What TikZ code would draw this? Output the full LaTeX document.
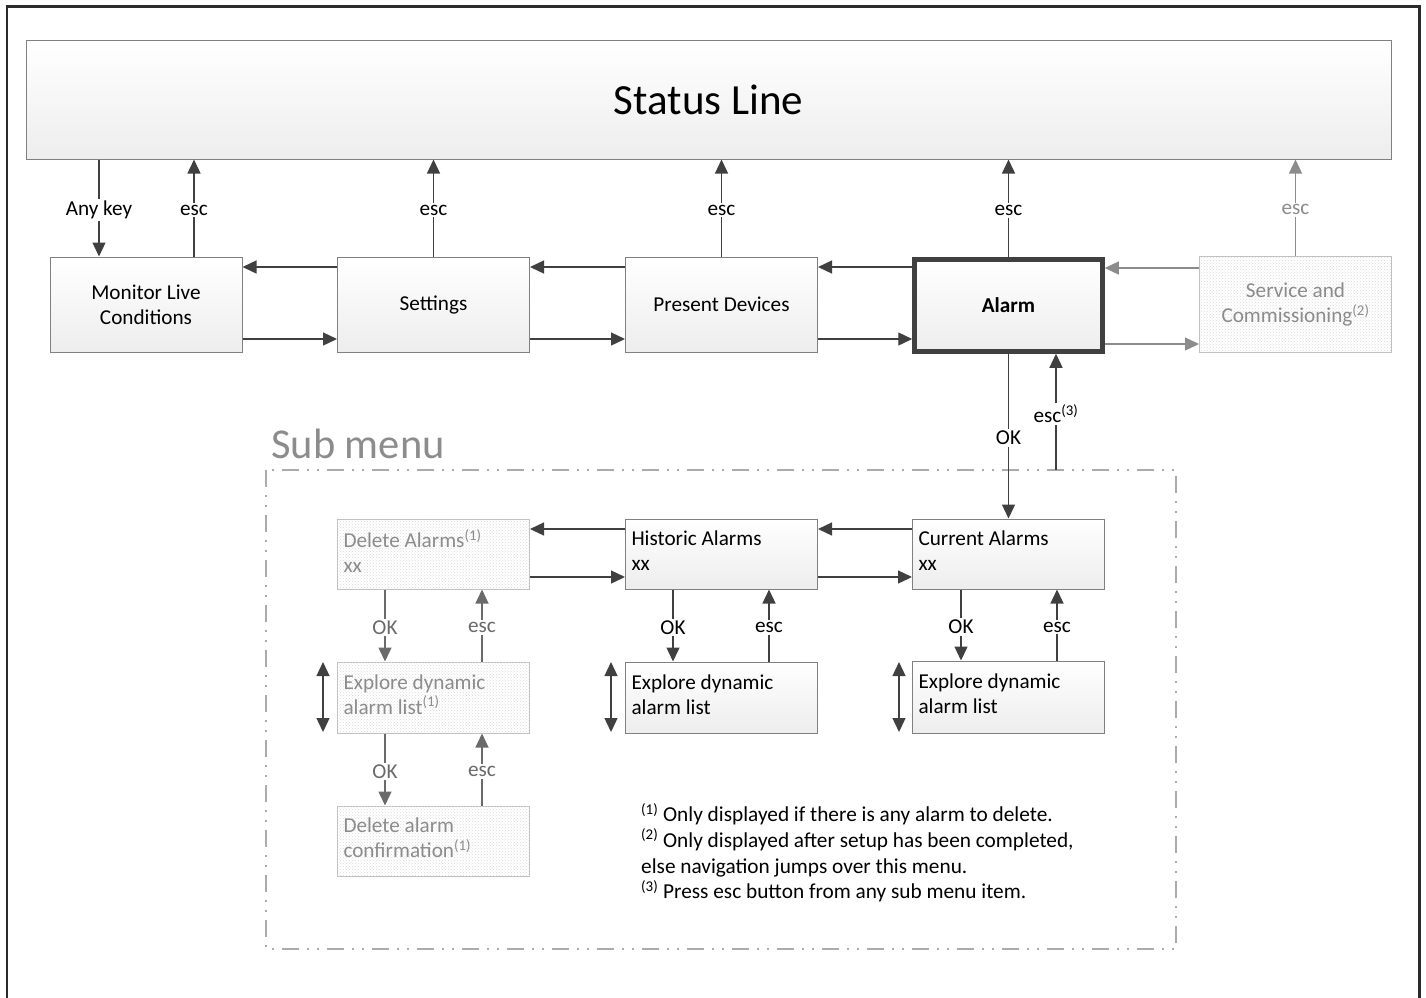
\documentclass[tikz,border=0pt]{standalone}
\usepackage{fontspec}
\setmainfont{Carlito}
\usetikzlibrary{arrows.meta,patterns,calc}
\definecolor{ln}{HTML}{404040}
\definecolor{bd}{HTML}{808080}
\definecolor{gtx}{HTML}{8C8C8C}
\definecolor{gbd}{HTML}{BFBFBF}
\definecolor{dg}{HTML}{6A6A6A}
\definecolor{frm}{HTML}{2B2B2B}
\definecolor{dashc}{HTML}{ABABAB}
\newcommand{\fs}{\fontsize{21.2}{25}\selectfont}
\newcommand{\dn}{\rule[-6pt]{0pt}{6pt}}
\begin{document}
\begin{tikzpicture}[x=1pt,y=-1pt,
  box/.style={draw=bd, line width=1pt, top color=white, bottom color=black!7,
    minimum width=192pt, inner sep=0pt, font=\fs, text=black},
  mainbox/.style={box, minimum height=95pt, align=center},
  subbox/.style={box, minimum height=70pt, text width=180pt, align=flush left},
  greybox/.style={draw=gbd, line width=1pt, fill=white,
    postaction={pattern=crosshatch dots, pattern color=black!14},
    minimum width=192pt, inner sep=0pt, font=\fs, text=gtx},
  arr/.style={draw=ln, line width=1.3pt, -{Triangle[length=14pt,width=13pt]}},
  garr/.style={arr, draw=gtx, -{Triangle[length=14pt,width=13pt,fill=gtx]}},
  darr/.style={arr, draw=dg, -{Triangle[length=14pt,width=13pt,fill=dg]}},
  dbl/.style={draw=ln, line width=1.3pt, {Triangle[length=14pt,width=13pt]}-{Triangle[length=14pt,width=13pt]}},
  lab/.style={fill=white, font=\fs, inner sep=2pt, text=black, yshift=-2pt},
  glab/.style={lab, text=gtx},
  dlab/.style={lab, text=dg}
]
\useasboundingbox (0,0) rectangle (1426,997);
% outer frame
\draw[frm, line width=2.5pt] (7,1005) -- (7,6.5) -- (1419.5,6.5) -- (1419.5,1005);

% status line
\node[draw=bd, line width=1pt, top color=white, bottom color=black!7,
  minimum width=1365pt, minimum height=119pt, inner sep=0pt,
  font=\fontsize{43}{48}\selectfont] (status) at (708.5,99.5) {Status Line};

% main row
\node[mainbox] (monitor) at (146,304.5) {Monitor Live\\Conditions};
\node[mainbox] (settings) at (433.5,304.5) {Settings};
\node[mainbox] (present) at (721.5,304.5) {Present Devices};
\node[mainbox, draw=ln, line width=4.5pt, minimum width=188pt, minimum height=92pt,
  font=\fs\bfseries] (alarm) at (1008.5,305.5) {Alarm};
\node[greybox, minimum height=96pt, align=center] (service) at (1295.5,304.5)
  {Service and\\Commissioning\textsuperscript{(2)}};

% up/down to status line
\draw[arr] (status.south -| 99,0) -- node[lab]{Any key} (monitor.north -| 99,0);
\draw[arr] (monitor.north -| 194,0) -- node[lab]{esc} (status.south -| 194,0);
\draw[arr] (settings.north) -- node[lab]{esc} (status.south -| settings.north);
\draw[arr] (present.north) -- node[lab]{esc} (status.south -| present.north);
\draw[arr] (alarm.north) -- node[lab]{esc} (status.south -| alarm.north);
\draw[garr] (service.north) -- node[glab]{esc} (status.south -| service.north);

% horizontal main arrows
\draw[arr] (settings.west |- 0,267) -- (monitor.east |- 0,267);
\draw[arr] (monitor.east |- 0,339) -- (settings.west |- 0,339);
\draw[arr] (present.west |- 0,267) -- (settings.east |- 0,267);
\draw[arr] (settings.east |- 0,339) -- (present.west |- 0,339);
\draw[arr] (alarm.west |- 0,267) -- (present.east |- 0,267);
\draw[arr] (present.east |- 0,339) -- (alarm.west |- 0,339);
\draw[garr] (service.west |- 0,268) -- (alarm.east |- 0,268);
\draw[garr] (alarm.east |- 0,344) -- (service.west |- 0,344);

% sub menu frame
\node[anchor=base west, font=\fontsize{42.5}{48}\selectfont, text=gtx, inner sep=0pt] (subtitle) at (271,458) {Sub menu};
\draw[dashc, line width=2.2pt, dash pattern=on 17pt off 8pt on 2pt off 8pt on 2pt off 8pt]
  (266,470) rectangle (1176,949);
\coordinate (subtop) at (1056,470);

% sub boxes
\node[greybox, minimum height=70pt, text width=180pt, align=flush left] (delete) at (433.5,554)
  {Delete Alarms\textsuperscript{(1)}\\xx\dn};
\node[subbox] (historic) at (721.5,554) {Historic Alarms\\xx\dn};
\node[subbox] (current) at (1008.5,554) {Current Alarms\\xx\dn};
\node[greybox, minimum height=71pt, text width=180pt, align=flush left] (expdel) at (433.5,697.5)
  {Explore dynamic\\alarm list\textsuperscript{(1)}\dn};
\node[subbox, minimum height=71pt] (exphist) at (721.5,697.5) {Explore dynamic\\alarm list\dn};
\node[subbox, minimum height=72pt] (expcur) at (1008.5,697) {Explore dynamic\\alarm list\dn};
\node[greybox, minimum height=70pt, text width=180pt, align=flush left] (confirm) at (433.5,841)
  {Delete alarm\\confirmation\textsuperscript{(1)}\dn};

% alarm <-> current
\draw[arr] (alarm.south -| current.north) -- node[lab]{OK} (current.north);
\draw[arr] (subtop) -- node[lab]{esc\textsuperscript{(3)}} (alarm.south -| subtop);

% sub horizontal arrows
\draw[arr] (historic.west |- 0,529) -- (delete.east |- 0,529);
\draw[arr] (delete.east |- 0,577) -- (historic.west |- 0,577);
\draw[arr] (current.west |- 0,529) -- (historic.east |- 0,529);
\draw[arr] (historic.east |- 0,577) -- (current.west |- 0,577);

% OK / esc in columns
\draw[darr] (delete.south -| 385,0) -- node[dlab]{OK} (expdel.north -| 385,0);
\draw[darr] (expdel.north -| 482,0) -- node[dlab]{esc} (delete.south -| 482,0);
\draw[darr] (expdel.south -| 385,0) -- node[dlab]{OK} (confirm.north -| 385,0);
\draw[darr] (confirm.north -| 482,0) -- node[dlab]{esc} (expdel.south -| 482,0);
\draw[arr] (historic.south -| 673,0) -- node[lab]{OK} (exphist.north -| 673,0);
\draw[arr] (exphist.north -| 769,0) -- node[lab]{esc} (historic.south -| 769,0);
\draw[arr] (current.south -| 961,0) -- node[lab]{OK} (expcur.north -| 961,0);
\draw[arr] (expcur.north -| 1057,0) -- node[lab]{esc} (current.south -| 1057,0);

% double arrows
\coordinate (d1a) at (323,662); \coordinate (d1b) at (323,732);
\coordinate (d2a) at (611,662); \coordinate (d2b) at (611,732);
\coordinate (d3a) at (899,662); \coordinate (d3b) at (899,732);
\draw[dbl] (d1a) -- (d1b);
\draw[dbl] (d2a) -- (d2b);
\draw[dbl] (d3a) -- (d3b);

% footnotes
\node[anchor=north west, align=left, font=\fontsize{21.3}{25.7}\selectfont, inner sep=0pt] (notes) at (641,803)
  {\textsuperscript{(1)} Only displayed if there is any alarm to delete.\\
   \textsuperscript{(2)} Only displayed after setup has been completed,\\
   else navigation jumps over this menu.\\
   \textsuperscript{(3)} Press esc button from any sub menu item.};
\end{tikzpicture}
\end{document}
